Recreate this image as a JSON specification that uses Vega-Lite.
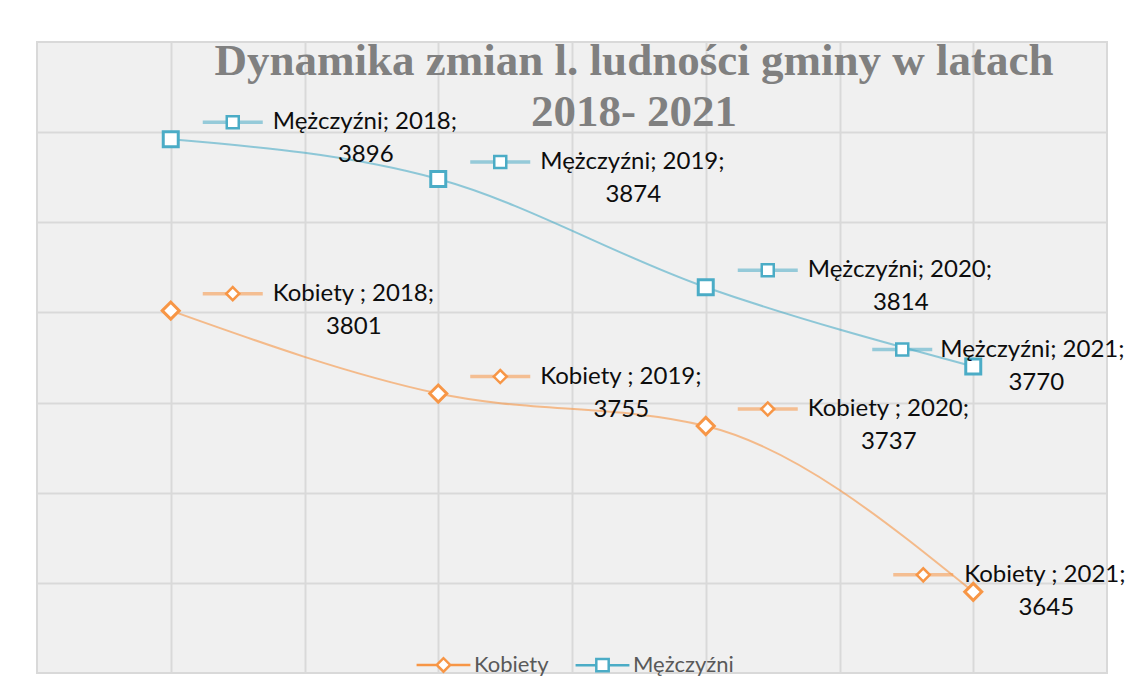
{
  "$schema": "https://vega.github.io/schema/vega-lite/v6.json",
  "width": 1070,
  "height": 631,
  "autosize": {"type": "none"},
  "padding": {"left": 37, "top": 42, "right": 18, "bottom": 23},
  "background": "white",
  "config": {
    "view": {"stroke": "#d9d9d9", "strokeWidth": 2, "fill": "#f0f0f0"},
    "axis": {"grid": true, "gridColor": "#d9d9d9", "gridWidth": 2, "labels": false, "ticks": false, "domain": false, "title": null}
  },
  "title": {
    "text": ["Dynamika zmian l. ludności gminy w latach", "2018- 2021"],
    "font": "Liberation Serif",
    "fontSize": 45,
    "fontWeight": "bold",
    "color": "#808080",
    "anchor": "middle",
    "frame": "group",
    "orient": "top",
    "baseline": "alphabetic",
    "lineHeight": 51,
    "offset": 0,
    "dx": 62,
    "dy": 129
  },
  "data": {
    "values": [
      {"series": "Mężczyźni", "year": 2018, "value": 3896},
      {"series": "Mężczyźni", "year": 2019, "value": 3874},
      {"series": "Mężczyźni", "year": 2020, "value": 3814},
      {"series": "Mężczyźni", "year": 2021, "value": 3770},
      {"series": "Kobiety", "year": 2018, "value": 3801},
      {"series": "Kobiety", "year": 2019, "value": 3755},
      {"series": "Kobiety", "year": 2020, "value": 3737},
      {"series": "Kobiety", "year": 2021, "value": 3645}
    ]
  },
  "transform": [
    {"calculate": "datum.series + (datum.series === 'Kobiety' ? ' ; ' : '; ') + datum.year + ';'", "as": "label1"}
  ],
  "encoding": {
    "x": {"field": "year", "type": "quantitative", "scale": {"domain": [2017.5, 2021.5], "nice": false, "zero": false},
          "axis": {"values": [2018, 2018.5, 2019, 2019.5, 2020, 2020.5, 2021]}},
    "y": {"field": "value", "type": "quantitative", "scale": {"domain": [3600, 3950], "nice": false, "zero": false},
          "axis": {"values": [3650, 3700, 3750, 3800, 3850, 3900]}}
  },
  "resolve": {"legend": {"color": "independent", "stroke": "independent", "shape": "independent"}},
  "layer": [
    {
      "mark": {"type": "line", "interpolate": "monotone", "strokeWidth": 2, "strokeOpacity": 0.6},
      "encoding": {
        "color": {"field": "series", "type": "nominal", "scale": {"domain": ["Kobiety", "Mężczyźni"], "range": ["#f79646", "#4bacc6"]}, "legend": null}
      }
    },
    {
      "mark": {"type": "tick", "orient": "horizontal", "size": 60, "thickness": 3.5, "opacity": 0.55,
               "xOffset": {"expr": "datum.year === 2021 ? (datum.series === 'Kobiety' ? -50 : -71) : 62"}, "yOffset": -17},
      "encoding": {
        "color": {"field": "series", "type": "nominal", "scale": {"domain": ["Kobiety", "Mężczyźni"], "range": ["#f79646", "#4bacc6"]}, "legend": null}
      }
    },
    {
      "mark": {"type": "point", "filled": true, "fill": "white", "opacity": 1, "strokeWidth": 2.5,
               "shape": {"expr": "datum.series === 'Kobiety' ? 'diamond' : 'square'"},
               "size": {"expr": "datum.series === 'Kobiety' ? 170 : 144"},
               "xOffset": {"expr": "datum.year === 2021 ? (datum.series === 'Kobiety' ? -50 : -71) : 62"}, "yOffset": -17},
      "encoding": {
        "stroke": {"field": "series", "type": "nominal", "scale": {"domain": ["Kobiety", "Mężczyźni"], "range": ["#f79646", "#4bacc6"]}, "legend": null}
      }
    },
    {
      "mark": {"type": "point", "filled": true, "fill": "white", "opacity": 1, "strokeWidth": 3,
               "shape": {"expr": "datum.series === 'Kobiety' ? 'diamond' : 'square'"},
               "size": {"expr": "datum.series === 'Kobiety' ? 290 : 225"}},
      "encoding": {
        "stroke": {"field": "series", "type": "nominal", "scale": {"domain": ["Kobiety", "Mężczyźni"], "range": ["#f79646", "#4bacc6"]}, "legend": null}
      }
    },
    {
      "mark": {"type": "point", "filled": true, "fill": "white", "opacity": 0, "strokeWidth": 2.5, "size": 2900},
      "encoding": {
        "stroke": {
          "field": "series", "type": "nominal",
          "scale": {"domain": ["Kobiety", "Mężczyźni"], "range": ["#f79646", "#4bacc6"]},
          "legend": {
            "title": null, "orient": "none", "direction": "horizontal",
            "legendX": 378, "legendY": 594, "padding": 0,
            "symbolSize": 2900, "symbolStrokeWidth": 2.5, "symbolFillColor": "white", "symbolOpacity": 1,
            "labelFont": "Lato", "labelFontSize": 22, "labelColor": "#595959", "labelOffset": 2,
            "columnPadding": 21
          }
        },
        "shape": {
          "field": "series", "type": "nominal",
          "scale": {"domain": ["Kobiety", "Mężczyźni"], "range": ["M-1,0H-0.25M0.25,0H1M-0.25,0L0,-0.25L0.25,0L0,0.25Z", "M-1,0H-0.23M0.23,0H1M-0.23,-0.23H0.23V0.23H-0.23Z"]},
          "legend": {
            "title": null, "orient": "none", "direction": "horizontal",
            "legendX": 378, "legendY": 594, "padding": 0,
            "symbolSize": 2900, "symbolStrokeWidth": 2.5, "symbolFillColor": "white", "symbolOpacity": 1,
            "labelFont": "Lato", "labelFontSize": 22, "labelColor": "#595959", "labelOffset": 2,
            "columnPadding": 21
          }
        }
      }
    },
    {
      "mark": {"type": "text", "align": "left", "baseline": "middle", "font": "Lato", "fontSize": 24, "color": "#0d0d0d",
               "xOffset": {"expr": "datum.year === 2021 ? (datum.series === 'Kobiety' ? -9 : -33) : 102"}, "yOffset": -17},
      "encoding": {"text": {"field": "label1"}}
    },
    {
      "mark": {"type": "text", "align": "center", "baseline": "middle", "font": "Lato", "fontSize": 24, "color": "#0d0d0d",
               "xOffset": {"expr": "datum.year === 2021 ? (datum.series === 'Kobiety' ? 73 : 63) : (datum.series === 'Kobiety' ? 183 : 195)"}, "yOffset": 16},
      "encoding": {"text": {"field": "value", "type": "quantitative", "format": "d"}}
    }
  ]
}
